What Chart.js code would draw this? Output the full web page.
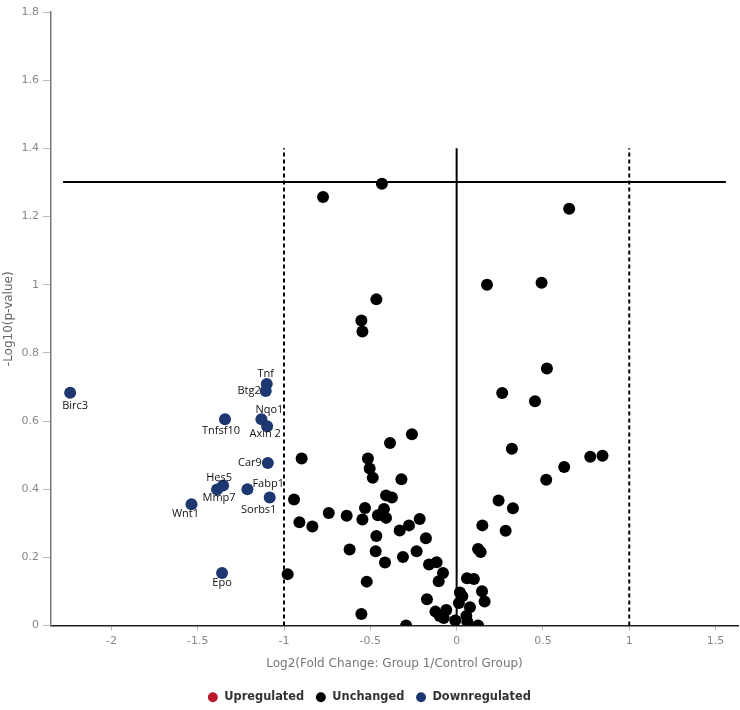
<!DOCTYPE html>
<html>
<head>
<meta charset="utf-8">
<script src="https://cdn.jsdelivr.net/npm/chart.js@4"></script>
<style>
  html, body { margin: 0; padding: 0; background: #ffffff; }
  #wrap { width: 740px; height: 710px; position: relative; }
</style>
</head>
<body>
<div id="wrap"><canvas id="c"></canvas></div>
<script>
// ---------- data ----------
const unchangedX = [-0.433, -0.774, 0.652, 0.176, 0.492, -0.465, -0.552, -0.546, 0.523, 0.264,
  0.454, 0.320, 0.774, 0.845, 0.623, 0.519, 0.243, 0.326, 0.149, 0.284,
  -0.259, -0.386, -0.898, -0.514, -0.504, -0.486, -0.320, -0.409, -0.375, -0.942,
  -0.531, -0.421, -0.741, -0.637, -0.456, -0.409, -0.546, -0.214, -0.911, -0.836,
  -0.276, -0.330, -0.465, -0.178, -0.620, -0.469, 0.124, 0.139, -0.232, -0.311,
  -0.415, -0.160, -0.116, -0.979, -0.079, -0.104, -0.521, 0.060, 0.100, 0.147,
  0.162, 0.019, 0.033, 0.013, 0.077, -0.172, -0.123, -0.098, -0.075, -0.060,
  -0.008, 0.056, 0.062, 0.124, -0.293, -0.552];
const unchangedY = [1.296, 1.257, 1.223, 1.000, 1.006, 0.957, 0.895, 0.863, 0.754, 0.682,
  0.658, 0.519, 0.495, 0.498, 0.465, 0.428, 0.367, 0.344, 0.294, 0.278,
  0.561, 0.536, 0.490, 0.490, 0.461, 0.434, 0.429, 0.382, 0.376, 0.370,
  0.345, 0.342, 0.330, 0.322, 0.324, 0.316, 0.311, 0.313, 0.303, 0.291,
  0.294, 0.279, 0.263, 0.256, 0.223, 0.218, 0.225, 0.216, 0.218, 0.201,
  0.185, 0.179, 0.186, 0.151, 0.154, 0.130, 0.129, 0.139, 0.137, 0.101,
  0.071, 0.097, 0.086, 0.066, 0.054, 0.077, 0.041, 0.028, 0.022, 0.046,
  0.015, 0.028, 0.011, 0.000, 0.000, 0.034];

const downGenes = ['Birc3', 'Tnf', 'Btg2', 'Tnfsf10', 'Nqo1', 'Axin 2', 'Car9', 'Hes5', 'Mmp7', 'Fabp1', 'Sorbs1', 'Wnt1', 'Epo'];
const downX = [-2.239, -1.100, -1.106, -1.342, -1.131, -1.098, -1.094, -1.353, -1.388, -1.212, -1.083, -1.536, -1.359];
const downY = [0.683, 0.709, 0.688, 0.605, 0.605, 0.585, 0.477, 0.411, 0.399, 0.400, 0.376, 0.356, 0.154];

const upX = [];
const upY = [];

const pThreshold = 1.301;           // -log10(0.05)
const pLineXRange = [-2.28, 1.56];
const fcThresholds = [-1, 1];
const vLineYRange = [0, 1.4];

const xTicks = [-2, -1.5, -1, -0.5, 0, 0.5, 1, 1.5];
const yTicks = [0, 0.2, 0.4, 0.6, 0.8, 1.0, 1.2, 1.4, 1.6, 1.8];

// ---------- label placement (style, px offsets from point) ----------
const labelPlacement = {
  'Birc3':  { dx: 5,  dy: 13, align: 'center' },
  'Tnf':    { dx: -1, dy: -10, align: 'center' },
  'Btg2':   { dx: -5, dy: 0,  align: 'right' },
  'Tnfsf10':{ dx: -4, dy: 11, align: 'center' },
  'Nqo1':   { dx: 8,  dy: -10, align: 'center' },
  'Axin 2': { dx: -2, dy: 8,  align: 'center' },
  'Car9':   { dx: -6, dy: 0,  align: 'right' },
  'Hes5':   { dx: -4, dy: -8, align: 'center' },
  'Mmp7':   { dx: 2,  dy: 8,  align: 'center' },
  'Fabp1':  { dx: 5,  dy: -5, align: 'left' },
  'Sorbs1': { dx: -11, dy: 12, align: 'center' },
  'Wnt1':   { dx: -6, dy: 10, align: 'center' },
  'Epo':    { dx: 0,  dy: 10, align: 'center' }
};

const toPts = (xs, ys) => xs.map((x, i) => ({ x: x, y: ys[i] }));
const fmt = v => String(Math.round(v * 10) / 10);

const RED = '#b5192b';
const BLACK = '#000000';
const NAVY = '#1d3770';

const geneLabels = {
  id: 'geneLabels',
  afterDatasetsDraw(chart) {
    const ctx = chart.ctx;
    const meta = chart.getDatasetMeta(2);
    ctx.save();
    ctx.font = '11px "Open Sans", sans-serif';
    ctx.fillStyle = '#111';
    ctx.textBaseline = 'middle';
    meta.data.forEach((el, i) => {
      const name = downGenes[i];
      const p = labelPlacement[name] || { dx: 0, dy: 10, align: 'center' };
      ctx.textAlign = p.align;
      ctx.fillText(name, el.x + p.dx, el.y + p.dy);
    });
    ctx.restore();
  }
};

const lineStyle = { showLine: true, pointRadius: 0, pointHoverRadius: 0, borderColor: '#000', borderWidth: 2, fill: false, order: 10 };

const chart = new Chart(document.getElementById('c'), {
  type: 'scatter',
  data: {
    datasets: [
      { label: 'Upregulated', data: toPts(upX, upY), backgroundColor: RED, borderColor: RED, pointRadius: 6, borderWidth: 0, order: 1 },
      { label: 'Unchanged', data: toPts(unchangedX, unchangedY), backgroundColor: BLACK, borderColor: BLACK, pointRadius: 6, borderWidth: 0, order: 1 },
      { label: 'Downregulated', data: toPts(downX, downY), backgroundColor: NAVY, borderColor: NAVY, pointRadius: 6, borderWidth: 0, order: 1 },
      Object.assign({ label: '_pline', data: pLineXRange.map(x => ({ x: x, y: pThreshold })) }, lineStyle),
      Object.assign({ label: '_zero', data: vLineYRange.map(y => ({ x: 0, y: y })) }, lineStyle),
      Object.assign({ label: '_fcneg', data: vLineYRange.map(y => ({ x: fcThresholds[0], y: y })) }, lineStyle, { borderDash: [4, 3] }),
      Object.assign({ label: '_fcpos', data: vLineYRange.map(y => ({ x: fcThresholds[1], y: y })) }, lineStyle, { borderDash: [4, 3] })
    ]
  },
  options: {
    responsive: true,
    maintainAspectRatio: false,
    animation: false,
    layout: { autoPadding: false, padding: { top: 12, right: 2, left: 0, bottom: -3 } },
    plugins: {
      tooltip: { enabled: false },
      legend: {
        position: 'bottom',
        labels: {
          filter: item => !item.text.startsWith('_'),
          usePointStyle: true,
          pointStyle: 'circle',
          boxWidth: 12,
          boxHeight: 7,
          padding: 11,
          color: '#333',
          font: { family: '"DejaVu Sans", sans-serif', size: 11.4, weight: 'bold' }
        }
      }
    },
    scales: {
      x: {
        type: 'linear',
        min: -2.35,
        max: 1.63,
        afterBuildTicks: s => { s.ticks = xTicks.map(v => ({ value: v })); },
        afterFit: s => { s.height = 55; },
        grid: { drawOnChartArea: false, drawTicks: true, tickLength: 5, color: '#bbb' },
        border: { color: '#222', width: 1.5 },
        ticks: { color: '#888', font: { family: '"DejaVu Sans", sans-serif', size: 11 }, padding: 4, callback: fmt },
        title: { display: true, text: 'Log2(Fold Change: Group 1/Control Group)', color: '#777',
                 font: { family: '"DejaVu Sans", sans-serif', size: 12 }, padding: { top: 6, bottom: 10 } }
      },
      y: {
        type: 'linear',
        min: 0,
        max: 1.8,
        afterBuildTicks: s => { s.ticks = yTicks.map(v => ({ value: v })); },
        afterFit: s => { s.width = 51; },
        grid: { drawOnChartArea: false, drawTicks: true, tickLength: 8, color: '#bbb' },
        border: { color: '#777', width: 1.5 },
        ticks: { color: '#888', font: { family: '"DejaVu Sans", sans-serif', size: 11 }, padding: 4, callback: fmt },
        title: { display: true, text: '-Log10(p-value)', color: '#666',
                 font: { family: '"DejaVu Sans", sans-serif', size: 12 }, padding: { top: 2, bottom: 0 } }
      }
    }
  },
  plugins: [geneLabels]
});
</script>
</body>
</html>
